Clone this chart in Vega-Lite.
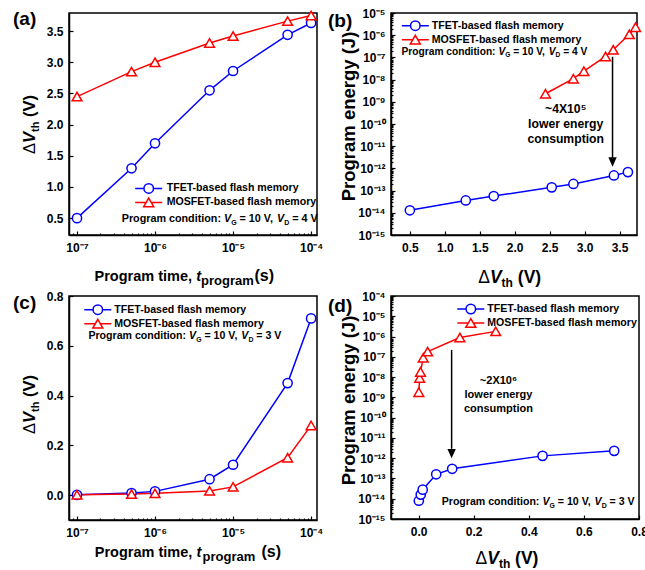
{
"$schema": "https://vega.github.io/schema/vega-lite/v6.json",
"background": "white",
"padding": {"left": 12, "top": 6, "right": 0, "bottom": 0},
"columns": 2,
"spacing": {"row": 61, "column": 74},
"bounds": "flush",
"resolve": {"scale": {"color": "independent", "shape": "independent"}, "legend": {"color": "independent", "shape": "independent"}},
"config": {
  "font": "Liberation Sans",
  "view": {"stroke": "black", "strokeWidth": 1.5},
  "axis": {"grid": false, "domainColor": "black", "domainWidth": 1.5, "tickColor": "black", "tickWidth": 1.2, "labelColor": "black", "labelFont": "Liberation Sans", "labelFontWeight": "bold", "labelFontSize": 12, "labelFlush": false, "labelOverlap": false, "titleColor": "black", "titleFont": "Liberation Sans", "titleFontWeight": "bold"},
  "legend": {"labelFont": "Liberation Sans", "labelFontWeight": "bold", "labelFontSize": 10.6, "labelColor": "black", "symbolStrokeWidth": 1.5, "symbolSize": 100, "labelLimit": 250},
  "text": {"font": "Liberation Sans", "fontWeight": "bold", "color": "black"}
},
"datasets": {
  "a": [
    {"series": "TFET-based flash memory", "t": 1e-7, "dv": 0.5},
    {"series": "TFET-based flash memory", "t": 5e-7, "dv": 1.3},
    {"series": "TFET-based flash memory", "t": 1e-6, "dv": 1.7},
    {"series": "TFET-based flash memory", "t": 5e-6, "dv": 2.55},
    {"series": "TFET-based flash memory", "t": 1e-5, "dv": 2.86},
    {"series": "TFET-based flash memory", "t": 5e-5, "dv": 3.44},
    {"series": "TFET-based flash memory", "t": 1e-4, "dv": 3.63},
    {"series": "MOSFET-based flash memory", "t": 1e-7, "dv": 2.45},
    {"series": "MOSFET-based flash memory", "t": 5e-7, "dv": 2.85},
    {"series": "MOSFET-based flash memory", "t": 1e-6, "dv": 3.0},
    {"series": "MOSFET-based flash memory", "t": 5e-6, "dv": 3.31},
    {"series": "MOSFET-based flash memory", "t": 1e-5, "dv": 3.42},
    {"series": "MOSFET-based flash memory", "t": 5e-5, "dv": 3.66},
    {"series": "MOSFET-based flash memory", "t": 1e-4, "dv": 3.75}
  ],
  "b": [
    {"series": "TFET-based flash memory", "dv": 0.5, "e": 1.3e-14},
    {"series": "TFET-based flash memory", "dv": 1.3, "e": 3.6e-14},
    {"series": "TFET-based flash memory", "dv": 1.7, "e": 5.7e-14},
    {"series": "TFET-based flash memory", "dv": 2.53, "e": 1.4e-13},
    {"series": "TFET-based flash memory", "dv": 2.84, "e": 2.0e-13},
    {"series": "TFET-based flash memory", "dv": 3.42, "e": 4.8e-13},
    {"series": "TFET-based flash memory", "dv": 3.62, "e": 6.8e-13},
    {"series": "MOSFET-based flash memory", "dv": 2.44, "e": 2.3e-9},
    {"series": "MOSFET-based flash memory", "dv": 2.84, "e": 1.1e-8},
    {"series": "MOSFET-based flash memory", "dv": 2.99, "e": 2.4e-8},
    {"series": "MOSFET-based flash memory", "dv": 3.3, "e": 1.1e-7},
    {"series": "MOSFET-based flash memory", "dv": 3.41, "e": 2.2e-7},
    {"series": "MOSFET-based flash memory", "dv": 3.64, "e": 1.1e-6},
    {"series": "MOSFET-based flash memory", "dv": 3.73, "e": 2.3e-6}
  ],
  "c": [
    {"series": "TFET-based flash memory", "t": 1e-7, "dv": 0.001},
    {"series": "TFET-based flash memory", "t": 5e-7, "dv": 0.008},
    {"series": "TFET-based flash memory", "t": 1e-6, "dv": 0.015},
    {"series": "TFET-based flash memory", "t": 5e-6, "dv": 0.064},
    {"series": "TFET-based flash memory", "t": 1e-5, "dv": 0.122},
    {"series": "TFET-based flash memory", "t": 5e-5, "dv": 0.45},
    {"series": "TFET-based flash memory", "t": 1e-4, "dv": 0.71},
    {"series": "MOSFET-based flash memory", "t": 1e-7, "dv": 0.001},
    {"series": "MOSFET-based flash memory", "t": 5e-7, "dv": 0.004},
    {"series": "MOSFET-based flash memory", "t": 1e-6, "dv": 0.007},
    {"series": "MOSFET-based flash memory", "t": 5e-6, "dv": 0.017},
    {"series": "MOSFET-based flash memory", "t": 1e-5, "dv": 0.033},
    {"series": "MOSFET-based flash memory", "t": 5e-5, "dv": 0.15},
    {"series": "MOSFET-based flash memory", "t": 1e-4, "dv": 0.28}
  ],
  "d": [
    {"series": "TFET-based flash memory", "dv": 0.001, "e": 8e-15},
    {"series": "TFET-based flash memory", "dv": 0.008, "e": 1.6e-14},
    {"series": "TFET-based flash memory", "dv": 0.015, "e": 2.8e-14},
    {"series": "TFET-based flash memory", "dv": 0.064, "e": 1.6e-13},
    {"series": "TFET-based flash memory", "dv": 0.122, "e": 3e-13},
    {"series": "TFET-based flash memory", "dv": 0.45, "e": 1.3e-12},
    {"series": "TFET-based flash memory", "dv": 0.71, "e": 2.3e-12},
    {"series": "MOSFET-based flash memory", "dv": 0.001, "e": 1.8e-9},
    {"series": "MOSFET-based flash memory", "dv": 0.004, "e": 9e-9},
    {"series": "MOSFET-based flash memory", "dv": 0.007, "e": 1.8e-8},
    {"series": "MOSFET-based flash memory", "dv": 0.017, "e": 9e-8},
    {"series": "MOSFET-based flash memory", "dv": 0.033, "e": 1.8e-7},
    {"series": "MOSFET-based flash memory", "dv": 0.15, "e": 9e-7},
    {"series": "MOSFET-based flash memory", "dv": 0.28, "e": 1.8e-6}
  ]
},
"concat": [
{
  "width": 248, "height": 222,
  "data": {"name": "a"},
  "resolve": {"axis": {"x": "independent", "y": "independent"}},
  "layer": [
    {"transform": [{"filter": "datum.series === 'TFET-based flash memory'"}],
     "mark": {"type": "line", "strokeWidth": 1.5, "color": "#0000ff"},
     "encoding": {
       "x": {"field": "t", "type": "quantitative", "scale": {"type": "log", "domain": [7.9e-8, 1.19e-4], "nice": false},
             "axis": {"orient": "bottom", "values": [1e-7, 1e-6, 1e-5, 1e-4], "labelExpr": "['10⁻⁷','10⁻⁶','10⁻⁵','10⁻⁴'][round(log(datum.value)/LN10)+7]", "tickSize": -4, "labelPadding": 11, "title": null}},
       "y": {"field": "dv", "type": "quantitative", "scale": {"domain": [0.23, 3.79], "nice": false, "zero": false},
             "axis": {"orient": "left", "values": [0.5, 1, 1.5, 2, 2.5, 3, 3.5], "format": ".1f", "tickSize": -4, "labelPadding": 10, "title": null}}
     }},
    {"transform": [{"filter": "datum.series === 'MOSFET-based flash memory'"}],
     "mark": {"type": "line", "strokeWidth": 1.5, "color": "#ff0000"},
     "encoding": {"x": {"field": "t", "type": "quantitative", "axis": null}, "y": {"field": "dv", "type": "quantitative", "axis": null}}},
    {"transform": [{"filter": "datum.series === 'TFET-based flash memory'"}],
     "mark": {"type": "point", "shape": "circle", "size": 85, "filled": true, "fill": "white", "stroke": "#0000ff", "strokeWidth": 1.5, "opacity": 1},
     "encoding": {"x": {"field": "t", "type": "quantitative", "axis": null}, "y": {"field": "dv", "type": "quantitative", "axis": null}}},
    {"transform": [{"filter": "datum.series === 'MOSFET-based flash memory'"}],
     "mark": {"type": "point", "shape": "triangle-up", "size": 95, "filled": true, "fill": "white", "stroke": "#ff0000", "strokeWidth": 1.5, "opacity": 1},
     "encoding": {"x": {"field": "t", "type": "quantitative", "axis": null}, "y": {"field": "dv", "type": "quantitative", "axis": null}}},
    {"transform": [{"filter": "false"}],
     "mark": {"type": "point", "size": 100, "strokeWidth": 1.5, "filled": false},
     "encoding": {
       "x": {"field": "t", "type": "quantitative", "axis": null}, "y": {"field": "dv", "type": "quantitative", "axis": null},
       "color": {"field": "series", "type": "nominal", "scale": {"domain": ["TFET-based flash memory", "MOSFET-based flash memory"], "range": ["#0000ff", "#ff0000"]},
                 "legend": {"orient": "none", "legendX": 73.7, "legendY": 169.4, "title": null, "padding": 0, "labelOffset": 12, "rowPadding": -5.5, "symbolSize": 100, "symbolStrokeWidth": 1.5, "symbolOpacity": 1}},
       "shape": {"field": "series", "type": "nominal", "scale": {"domain": ["TFET-based flash memory", "MOSFET-based flash memory"], "range": ["M-2.7,0H-0.95M0.95,0H2.7M0.95,0A0.95,0.95,0,1,1,-0.95,0A0.95,0.95,0,1,1,0.95,0", "M-2.7,0H-0.5M0.5,0H2.7M0,-0.87L1,0.87L-1,0.87Z"]},
                 "legend": {"orient": "none", "legendX": 73.7, "legendY": 169.4, "title": null, "padding": 0, "labelOffset": 12, "rowPadding": -5.5, "symbolSize": 100, "symbolStrokeWidth": 1.5, "symbolOpacity": 1}}
     }},
    {"data": {"values": [{}]},
     "mark": {"type": "text", "align": "left", "baseline": "alphabetic", "fontSize": 19, "fontWeight": "bold", "dx": -56, "dy": 12, "text": "(a)"},
     "encoding": {"x": {"datum": 7.9e-8, "type": "quantitative", "axis": null}, "y": {"datum": 3.79, "type": "quantitative", "axis": null}}},
    {"data": {"values": [{}]},
     "mark": {"type": "text", "align": "left", "baseline": "alphabetic", "fontSize": 10.77, "fontWeight": "bold", "text": "Program condition:"},
     "encoding": {
       "x": {"datum": 3.74e-7, "type": "quantitative", "axis": {"orient": "bottom", "domain": false, "ticks": false, "labels": false, "title": "Program time,", "titleX": 25, "titleY": 45.5, "titleAlign": "left", "titleBaseline": "alphabetic", "titleAngle": 0, "titleFontSize": 14.5, "titleFontStyle": "normal"}},
       "y": {"datum": 0.438, "type": "quantitative", "axis": {"orient": "left", "domain": false, "ticks": false, "labels": false, "title": "Δ", "titleX": -35, "titleY": 140.5, "titleAlign": "left", "titleBaseline": "alphabetic", "titleAngle": -90, "titleFontSize": 16.5, "titleFontWeight": "normal"}}
     }},
    {"data": {"values": [{}]},
     "mark": {"type": "text", "align": "left", "baseline": "alphabetic", "fontSize": 10.77, "fontWeight": "bold", "fontStyle": "italic", "dx": 102.3, "text": "V"},
     "encoding": {
       "x": {"datum": 3.74e-7, "type": "quantitative", "axis": {"orient": "bottom", "domain": false, "ticks": false, "labels": false, "title": "t", "titleX": 126.8, "titleY": 45.5, "titleAlign": "left", "titleBaseline": "alphabetic", "titleAngle": 0, "titleFontSize": 14.5, "titleFontStyle": "italic"}},
       "y": {"datum": 0.438, "type": "quantitative", "axis": {"orient": "left", "domain": false, "ticks": false, "labels": false, "title": "V", "titleX": -35, "titleY": 129.5, "titleAlign": "left", "titleBaseline": "alphabetic", "titleAngle": -90, "titleFontSize": 16.5, "titleFontStyle": "italic"}}
     }},
    {"data": {"values": [{}]},
     "mark": {"type": "text", "align": "left", "baseline": "alphabetic", "fontSize": 7, "fontWeight": "bold", "dx": 109.5, "dy": 2.5, "text": "G"},
     "encoding": {
       "x": {"datum": 3.74e-7, "type": "quantitative", "axis": {"orient": "bottom", "domain": false, "ticks": false, "labels": false, "title": "program", "titleX": 131.5, "titleY": 49.5, "titleAlign": "left", "titleBaseline": "alphabetic", "titleAngle": 0, "titleFontSize": 13}},
       "y": {"datum": 0.438, "type": "quantitative", "axis": {"orient": "left", "domain": false, "ticks": false, "labels": false, "title": "th", "titleX": -30.5, "titleY": 118.5, "titleAlign": "left", "titleBaseline": "alphabetic", "titleAngle": -90, "titleFontSize": 11}}
     }},
    {"data": {"values": [{}]},
     "mark": {"type": "text", "align": "left", "baseline": "alphabetic", "fontSize": 10.77, "fontWeight": "bold", "dx": 117.9, "text": "= 10 V,"},
     "encoding": {
       "x": {"datum": 3.74e-7, "type": "quantitative", "axis": {"orient": "bottom", "domain": false, "ticks": false, "labels": false, "title": "(s)", "titleX": 185, "titleY": 45.5, "titleAlign": "left", "titleBaseline": "alphabetic", "titleAngle": 0, "titleFontSize": 16}},
       "y": {"datum": 0.438, "type": "quantitative", "axis": {"orient": "left", "domain": false, "ticks": false, "labels": false, "title": "(V)", "titleX": -35, "titleY": 103.5, "titleAlign": "left", "titleBaseline": "alphabetic", "titleAngle": -90, "titleFontSize": 16.5}}
     }},
    {"data": {"values": [{}]},
     "mark": {"type": "text", "align": "left", "baseline": "alphabetic", "fontSize": 10.77, "fontWeight": "bold", "fontStyle": "italic", "dx": 155.4, "text": "V"},
     "encoding": {
       "x": {"datum": 3.74e-7, "type": "quantitative", "axis": {"orient": "bottom", "values": [9e-8, 2e-7, 3e-7, 4e-7, 5e-7, 6e-7, 7e-7, 8e-7, 9e-7, 2e-6, 3e-6, 4e-6, 5e-6, 6e-6, 7e-6, 8e-6, 9e-6, 2e-5, 3e-5, 4e-5, 5e-5, 6e-5, 7e-5, 8e-5, 9e-5], "labels": false, "domain": false, "tickSize": -2, "title": null}},
       "y": {"datum": 0.438, "type": "quantitative", "axis": null}
     }},
    {"data": {"values": [{}]},
     "mark": {"type": "text", "align": "left", "baseline": "alphabetic", "fontSize": 7, "fontWeight": "bold", "dx": 162.6, "dy": 2.5, "text": "D"},
     "encoding": {"x": {"datum": 3.74e-7, "type": "quantitative", "axis": null}, "y": {"datum": 0.438, "type": "quantitative", "axis": null}}},
    {"data": {"values": [{}]},
     "mark": {"type": "text", "align": "left", "baseline": "alphabetic", "fontSize": 10.77, "fontWeight": "bold", "dx": 170.6, "text": "= 4 V"},
     "encoding": {"x": {"datum": 3.74e-7, "type": "quantitative", "axis": null}, "y": {"datum": 0.438, "type": "quantitative", "axis": null}}}
  ]
},
{
  "width": 246, "height": 222,
  "data": {"name": "b"},
  "resolve": {"axis": {"x": "independent", "y": "independent"}},
  "layer": [
    {"transform": [{"filter": "datum.series === 'TFET-based flash memory'"}],
     "mark": {"type": "line", "strokeWidth": 1.5, "color": "#0000ff"},
     "encoding": {
       "x": {"field": "dv", "type": "quantitative", "scale": {"domain": [0.23, 3.75], "nice": false, "zero": false},
             "axis": {"orient": "bottom", "values": [0.5, 1, 1.5, 2, 2.5, 3, 3.5], "format": ".1f", "tickSize": -4, "labelPadding": 11, "title": null}},
       "y": {"field": "e", "type": "quantitative", "scale": {"type": "log", "domain": [1e-15, 1e-5], "nice": false},
             "axis": {"orient": "left", "values": [1e-15, 1e-14, 1e-13, 1e-12, 1e-11, 1e-10, 1e-9, 1e-8, 1e-7, 1e-6, 1e-5], "labelExpr": "['10⁻¹⁵','10⁻¹⁴','10⁻¹³','10⁻¹²','10⁻¹¹','10⁻¹⁰','10⁻⁹','10⁻⁸','10⁻⁷','10⁻⁶','10⁻⁵','10⁻⁴'][round(log(datum.value)/LN10)+15]", "tickSize": -4, "labelPadding": 10, "title": "Program energy (J)", "titleX": -37, "titleY": 103, "titleAngle": -90, "titleAlign": "center", "titleBaseline": "alphabetic", "titleFontSize": 18.5}}
     }},
    {"transform": [{"filter": "datum.series === 'MOSFET-based flash memory'"}],
     "mark": {"type": "line", "strokeWidth": 1.5, "color": "#ff0000"},
     "encoding": {"x": {"field": "dv", "type": "quantitative", "axis": null}, "y": {"field": "e", "type": "quantitative", "axis": null}}},
    {"transform": [{"filter": "datum.series === 'TFET-based flash memory'"}],
     "mark": {"type": "point", "shape": "circle", "size": 85, "filled": true, "fill": "white", "stroke": "#0000ff", "strokeWidth": 1.5, "opacity": 1},
     "encoding": {"x": {"field": "dv", "type": "quantitative", "axis": null}, "y": {"field": "e", "type": "quantitative", "axis": null}}},
    {"transform": [{"filter": "datum.series === 'MOSFET-based flash memory'"}],
     "mark": {"type": "point", "shape": "triangle-up", "size": 95, "filled": true, "fill": "white", "stroke": "#ff0000", "strokeWidth": 1.5, "opacity": 1},
     "encoding": {"x": {"field": "dv", "type": "quantitative", "axis": null}, "y": {"field": "e", "type": "quantitative", "axis": null}}},
    {"transform": [{"filter": "false"}],
     "mark": {"type": "point", "size": 100, "strokeWidth": 1.5, "filled": false},
     "encoding": {
       "x": {"field": "dv", "type": "quantitative", "axis": null}, "y": {"field": "e", "type": "quantitative", "axis": null},
       "color": {"field": "series", "type": "nominal", "scale": {"domain": ["TFET-based flash memory", "MOSFET-based flash memory"], "range": ["#0000ff", "#ff0000"]},
                 "legend": {"orient": "none", "legendX": 18.3, "legendY": 6.7, "title": null, "padding": 0, "labelOffset": 10.5, "rowPadding": -3.2, "symbolSize": 100, "symbolStrokeWidth": 1.5, "symbolOpacity": 1}},
       "shape": {"field": "series", "type": "nominal", "scale": {"domain": ["TFET-based flash memory", "MOSFET-based flash memory"], "range": ["M-2.7,0H-0.95M0.95,0H2.7M0.95,0A0.95,0.95,0,1,1,-0.95,0A0.95,0.95,0,1,1,0.95,0", "M-2.7,0H-0.5M0.5,0H2.7M0,-0.87L1,0.87L-1,0.87Z"]},
                 "legend": {"orient": "none", "legendX": 18.3, "legendY": 6.7, "title": null, "padding": 0, "labelOffset": 10.5, "rowPadding": -3.2, "symbolSize": 100, "symbolStrokeWidth": 1.5, "symbolOpacity": 1}}
     }},
    {"data": {"values": [{}]},
     "mark": {"type": "text", "align": "left", "baseline": "alphabetic", "fontSize": 19, "fontWeight": "bold", "dx": -63, "dy": 13.5, "text": "(b)"},
     "encoding": {"x": {"datum": 0.23, "type": "quantitative", "axis": null}, "y": {"datum": 1e-5, "type": "quantitative", "axis": null}}},
    {"data": {"values": [{}]},
     "mark": {"type": "text", "align": "left", "baseline": "alphabetic", "fontSize": 10.2, "fontWeight": "bold", "text": "Program condition:"},
     "encoding": {
       "x": {"datum": 0.381, "type": "quantitative", "axis": {"orient": "bottom", "domain": false, "ticks": false, "labels": false, "title": "Δ", "titleX": 86.7, "titleY": 47.7, "titleAlign": "left", "titleBaseline": "alphabetic", "titleAngle": 0, "titleFontSize": 17.5, "titleFontWeight": "normal"}},
       "y": {"datum": 1.29e-7, "type": "quantitative", "axis": null}
     }},
    {"data": {"values": [{}]},
     "mark": {"type": "text", "align": "left", "baseline": "alphabetic", "fontSize": 10.2, "fontWeight": "bold", "fontStyle": "italic", "dx": 96.9, "text": "V"},
     "encoding": {
       "x": {"datum": 0.381, "type": "quantitative", "axis": {"orient": "bottom", "domain": false, "ticks": false, "labels": false, "title": "V", "titleX": 98.4, "titleY": 47.7, "titleAlign": "left", "titleBaseline": "alphabetic", "titleAngle": 0, "titleFontSize": 17.5, "titleFontStyle": "italic"}},
       "y": {"datum": 1.29e-7, "type": "quantitative", "axis": null}
     }},
    {"data": {"values": [{}]},
     "mark": {"type": "text", "align": "left", "baseline": "alphabetic", "fontSize": 6.6, "fontWeight": "bold", "dx": 103.7, "dy": 2.4, "text": "G"},
     "encoding": {
       "x": {"datum": 0.381, "type": "quantitative", "axis": {"orient": "bottom", "domain": false, "ticks": false, "labels": false, "title": "th", "titleX": 110.1, "titleY": 51.7, "titleAlign": "left", "titleBaseline": "alphabetic", "titleAngle": 0, "titleFontSize": 12}},
       "y": {"datum": 1.29e-7, "type": "quantitative", "axis": null}
     }},
    {"data": {"values": [{}]},
     "mark": {"type": "text", "align": "left", "baseline": "alphabetic", "fontSize": 10.2, "fontWeight": "bold", "dx": 111.7, "text": "= 10 V,"},
     "encoding": {
       "x": {"datum": 0.381, "type": "quantitative", "axis": {"orient": "bottom", "domain": false, "ticks": false, "labels": false, "title": "(V)", "titleX": 126.3, "titleY": 47.7, "titleAlign": "left", "titleBaseline": "alphabetic", "titleAngle": 0, "titleFontSize": 17.5}},
       "y": {"datum": 1.29e-7, "type": "quantitative", "axis": null}
     }},
    {"data": {"values": [{}]},
     "mark": {"type": "text", "align": "left", "baseline": "alphabetic", "fontSize": 10.2, "fontWeight": "bold", "fontStyle": "italic", "dx": 147.2, "text": "V"},
     "encoding": {
       "x": {"datum": 0.381, "type": "quantitative", "axis": null},
       "y": {"datum": 1.29e-7, "type": "quantitative", "axis": {"orient": "left", "values": [2e-15, 3e-15, 4e-15, 5e-15, 6e-15, 7e-15, 8e-15, 9e-15, 2e-14, 3e-14, 4e-14, 5e-14, 6e-14, 7e-14, 8e-14, 9e-14, 2e-13, 3e-13, 4e-13, 5e-13, 6e-13, 7e-13, 8e-13, 9e-13, 2e-12, 3e-12, 4e-12, 5e-12, 6e-12, 7e-12, 8e-12, 9e-12, 2e-11, 3e-11, 4e-11, 5e-11, 6e-11, 7e-11, 8e-11, 9e-11, 2e-10, 3e-10, 4e-10, 5e-10, 6e-10, 7e-10, 8e-10, 9e-10, 2e-9, 3e-9, 4e-9, 5e-9, 6e-9, 7e-9, 8e-9, 9e-9, 2e-8, 3e-8, 4e-8, 5e-8, 6e-8, 7e-8, 8e-8, 9e-8, 2e-7, 3e-7, 4e-7, 5e-7, 6e-7, 7e-7, 8e-7, 9e-7, 2e-6, 3e-6, 4e-6, 5e-6, 6e-6, 7e-6, 8e-6, 9e-6], "labels": false, "domain": false, "tickSize": -2, "title": null}}
     }},
    {"data": {"values": [{}]},
     "mark": {"type": "text", "align": "left", "baseline": "alphabetic", "fontSize": 6.6, "fontWeight": "bold", "dx": 154.0, "dy": 2.4, "text": "D"},
     "encoding": {"x": {"datum": 0.381, "type": "quantitative", "axis": null}, "y": {"datum": 1.29e-7, "type": "quantitative", "axis": null}}},
    {"data": {"values": [{}]},
     "mark": {"type": "text", "align": "left", "baseline": "alphabetic", "fontSize": 10.2, "fontWeight": "bold", "dx": 161.6, "text": "= 4 V"},
     "encoding": {"x": {"datum": 0.381, "type": "quantitative", "axis": null}, "y": {"datum": 1.29e-7, "type": "quantitative", "axis": null}}},
    {"data": {"values": [{}]},
     "mark": {"type": "text", "align": "center", "baseline": "alphabetic", "fontSize": 12.2, "fontWeight": "bold", "lineBreak": "\n", "lineHeight": 15, "text": "~4X10⁵\nlower energy\nconsumption"},
     "encoding": {"x": {"datum": 2.73, "type": "quantitative", "axis": null}, "y": {"datum": 3.2e-10, "type": "quantitative", "axis": null}}},
    {"data": {"values": [{}]},
     "mark": {"type": "rule", "strokeWidth": 1.5, "color": "black"},
     "encoding": {"x": {"datum": 3.4, "type": "quantitative", "axis": null}, "y": {"datum": 1.07e-7, "type": "quantitative", "axis": null}, "y2": {"datum": 3e-12}}},
    {"data": {"values": [{}]},
     "mark": {"type": "point", "shape": "M-0.45,-1L0.45,-1L0,0Z", "filled": true, "color": "black", "size": 346, "opacity": 1},
     "encoding": {"x": {"datum": 3.4, "type": "quantitative", "axis": null}, "y": {"datum": 1.2e-12, "type": "quantitative", "axis": null}}}
  ]
},
{
  "width": 248, "height": 224,
  "data": {"name": "c"},
  "resolve": {"axis": {"x": "independent", "y": "independent"}},
  "layer": [
    {"transform": [{"filter": "datum.series === 'TFET-based flash memory'"}],
     "mark": {"type": "line", "strokeWidth": 1.5, "color": "#0000ff"},
     "encoding": {
       "x": {"field": "t", "type": "quantitative", "scale": {"type": "log", "domain": [7.9e-8, 1.19e-4], "nice": false},
             "axis": {"orient": "bottom", "values": [1e-7, 1e-6, 1e-5, 1e-4], "labelExpr": "['10⁻⁷','10⁻⁶','10⁻⁵','10⁻⁴'][round(log(datum.value)/LN10)+7]", "tickSize": -4, "labelPadding": 11, "title": null}},
       "y": {"field": "dv", "type": "quantitative", "scale": {"domain": [-0.1, 0.8], "nice": false, "zero": false},
             "axis": {"orient": "left", "values": [0, 0.2, 0.4, 0.6, 0.8], "format": ".1f", "tickSize": -4, "labelPadding": 10, "title": null}}
     }},
    {"transform": [{"filter": "datum.series === 'MOSFET-based flash memory'"}],
     "mark": {"type": "line", "strokeWidth": 1.5, "color": "#ff0000"},
     "encoding": {"x": {"field": "t", "type": "quantitative", "axis": null}, "y": {"field": "dv", "type": "quantitative", "axis": null}}},
    {"transform": [{"filter": "datum.series === 'TFET-based flash memory'"}],
     "mark": {"type": "point", "shape": "circle", "size": 85, "filled": true, "fill": "white", "stroke": "#0000ff", "strokeWidth": 1.5, "opacity": 1},
     "encoding": {"x": {"field": "t", "type": "quantitative", "axis": null}, "y": {"field": "dv", "type": "quantitative", "axis": null}}},
    {"transform": [{"filter": "datum.series === 'MOSFET-based flash memory'"}],
     "mark": {"type": "point", "shape": "triangle-up", "size": 95, "filled": true, "fill": "white", "stroke": "#ff0000", "strokeWidth": 1.5, "opacity": 1},
     "encoding": {"x": {"field": "t", "type": "quantitative", "axis": null}, "y": {"field": "dv", "type": "quantitative", "axis": null}}},
    {"transform": [{"filter": "false"}],
     "mark": {"type": "point", "size": 100, "strokeWidth": 1.5, "filled": false},
     "encoding": {
       "x": {"field": "t", "type": "quantitative", "axis": null}, "y": {"field": "dv", "type": "quantitative", "axis": null},
       "color": {"field": "series", "type": "nominal", "scale": {"domain": ["TFET-based flash memory", "MOSFET-based flash memory"], "range": ["#0000ff", "#ff0000"]},
                 "legend": {"orient": "none", "legendX": 22.8, "legendY": 7.7, "title": null, "padding": 0, "labelOffset": 10.5, "rowPadding": -5.5, "symbolSize": 100, "symbolStrokeWidth": 1.5, "symbolOpacity": 1}},
       "shape": {"field": "series", "type": "nominal", "scale": {"domain": ["TFET-based flash memory", "MOSFET-based flash memory"], "range": ["M-2.7,0H-0.95M0.95,0H2.7M0.95,0A0.95,0.95,0,1,1,-0.95,0A0.95,0.95,0,1,1,0.95,0", "M-2.7,0H-0.5M0.5,0H2.7M0,-0.87L1,0.87L-1,0.87Z"]},
                 "legend": {"orient": "none", "legendX": 22.8, "legendY": 7.7, "title": null, "padding": 0, "labelOffset": 10.5, "rowPadding": -5.5, "symbolSize": 100, "symbolStrokeWidth": 1.5, "symbolOpacity": 1}}
     }},
    {"data": {"values": [{}]},
     "mark": {"type": "text", "align": "left", "baseline": "alphabetic", "fontSize": 19, "fontWeight": "bold", "dx": -56, "dy": 13, "text": "(c)"},
     "encoding": {"x": {"datum": 7.9e-8, "type": "quantitative", "axis": null}, "y": {"datum": 0.8, "type": "quantitative", "axis": null}}},
    {"data": {"values": [{}]},
     "mark": {"type": "text", "align": "left", "baseline": "alphabetic", "fontSize": 10.6, "fontWeight": "bold", "text": "Program condition:"},
     "encoding": {
       "x": {"datum": 1.4e-7, "type": "quantitative", "axis": {"orient": "bottom", "domain": false, "ticks": false, "labels": false, "title": "Program time,", "titleX": 25.3, "titleY": 36, "titleAlign": "left", "titleBaseline": "alphabetic", "titleAngle": 0, "titleFontSize": 14.5, "titleFontStyle": "normal"}},
       "y": {"datum": 0.627, "type": "quantitative", "axis": {"orient": "left", "domain": false, "ticks": false, "labels": false, "title": "Δ", "titleX": -35, "titleY": 137.5, "titleAlign": "left", "titleBaseline": "alphabetic", "titleAngle": -90, "titleFontSize": 16.5, "titleFontWeight": "normal"}}
     }},
    {"data": {"values": [{}]},
     "mark": {"type": "text", "align": "left", "baseline": "alphabetic", "fontSize": 10.6, "fontWeight": "bold", "fontStyle": "italic", "dx": 100.7, "text": "V"},
     "encoding": {
       "x": {"datum": 1.4e-7, "type": "quantitative", "axis": {"orient": "bottom", "domain": false, "ticks": false, "labels": false, "title": "t", "titleX": 127, "titleY": 36, "titleAlign": "left", "titleBaseline": "alphabetic", "titleAngle": 0, "titleFontSize": 14.5, "titleFontStyle": "italic"}},
       "y": {"datum": 0.627, "type": "quantitative", "axis": {"orient": "left", "domain": false, "ticks": false, "labels": false, "title": "V", "titleX": -35, "titleY": 126.5, "titleAlign": "left", "titleBaseline": "alphabetic", "titleAngle": -90, "titleFontSize": 16.5, "titleFontStyle": "italic"}}
     }},
    {"data": {"values": [{}]},
     "mark": {"type": "text", "align": "left", "baseline": "alphabetic", "fontSize": 6.9, "fontWeight": "bold", "dx": 107.8, "dy": 2.5, "text": "G"},
     "encoding": {
       "x": {"datum": 1.4e-7, "type": "quantitative", "axis": {"orient": "bottom", "domain": false, "ticks": false, "labels": false, "title": "program", "titleX": 133, "titleY": 40, "titleAlign": "left", "titleBaseline": "alphabetic", "titleAngle": 0, "titleFontSize": 13}},
       "y": {"datum": 0.627, "type": "quantitative", "axis": {"orient": "left", "domain": false, "ticks": false, "labels": false, "title": "th", "titleX": -30.5, "titleY": 115.5, "titleAlign": "left", "titleBaseline": "alphabetic", "titleAngle": -90, "titleFontSize": 11}}
     }},
    {"data": {"values": [{}]},
     "mark": {"type": "text", "align": "left", "baseline": "alphabetic", "fontSize": 10.6, "fontWeight": "bold", "dx": 116.1, "text": "= 10 V,"},
     "encoding": {
       "x": {"datum": 1.4e-7, "type": "quantitative", "axis": {"orient": "bottom", "domain": false, "ticks": false, "labels": false, "title": "(s)", "titleX": 192, "titleY": 36, "titleAlign": "left", "titleBaseline": "alphabetic", "titleAngle": 0, "titleFontSize": 16}},
       "y": {"datum": 0.627, "type": "quantitative", "axis": {"orient": "left", "domain": false, "ticks": false, "labels": false, "title": "(V)", "titleX": -35, "titleY": 100.5, "titleAlign": "left", "titleBaseline": "alphabetic", "titleAngle": -90, "titleFontSize": 16.5}}
     }},
    {"data": {"values": [{}]},
     "mark": {"type": "text", "align": "left", "baseline": "alphabetic", "fontSize": 10.6, "fontWeight": "bold", "fontStyle": "italic", "dx": 152.9, "text": "V"},
     "encoding": {
       "x": {"datum": 1.4e-7, "type": "quantitative", "axis": {"orient": "bottom", "values": [9e-8, 2e-7, 3e-7, 4e-7, 5e-7, 6e-7, 7e-7, 8e-7, 9e-7, 2e-6, 3e-6, 4e-6, 5e-6, 6e-6, 7e-6, 8e-6, 9e-6, 2e-5, 3e-5, 4e-5, 5e-5, 6e-5, 7e-5, 8e-5, 9e-5], "labels": false, "domain": false, "tickSize": -2, "title": null}},
       "y": {"datum": 0.627, "type": "quantitative", "axis": null}
     }},
    {"data": {"values": [{}]},
     "mark": {"type": "text", "align": "left", "baseline": "alphabetic", "fontSize": 6.9, "fontWeight": "bold", "dx": 160.0, "dy": 2.5, "text": "D"},
     "encoding": {"x": {"datum": 1.4e-7, "type": "quantitative", "axis": null}, "y": {"datum": 0.627, "type": "quantitative", "axis": null}}},
    {"data": {"values": [{}]},
     "mark": {"type": "text", "align": "left", "baseline": "alphabetic", "fontSize": 10.6, "fontWeight": "bold", "dx": 167.9, "text": "= 3 V"},
     "encoding": {"x": {"datum": 1.4e-7, "type": "quantitative", "axis": null}, "y": {"datum": 0.627, "type": "quantitative", "axis": null}}}
  ]
},
{
  "width": 248, "height": 223,
  "data": {"name": "d"},
  "resolve": {"axis": {"x": "independent", "y": "independent"}},
  "layer": [
    {"transform": [{"filter": "datum.series === 'TFET-based flash memory'"}],
     "mark": {"type": "line", "strokeWidth": 1.5, "color": "#0000ff"},
     "encoding": {
       "x": {"field": "dv", "type": "quantitative", "scale": {"domain": [-0.1, 0.8], "nice": false, "zero": false},
             "axis": {"orient": "bottom", "values": [0, 0.2, 0.4, 0.6, 0.8], "format": ".1f", "tickSize": -4, "labelPadding": 11, "title": null}},
       "y": {"field": "e", "type": "quantitative", "scale": {"type": "log", "domain": [1e-15, 1e-4], "nice": false},
             "axis": {"orient": "left", "values": [1e-15, 1e-14, 1e-13, 1e-12, 1e-11, 1e-10, 1e-9, 1e-8, 1e-7, 1e-6, 1e-5, 1e-4], "labelExpr": "['10⁻¹⁵','10⁻¹⁴','10⁻¹³','10⁻¹²','10⁻¹¹','10⁻¹⁰','10⁻⁹','10⁻⁸','10⁻⁷','10⁻⁶','10⁻⁵','10⁻⁴'][round(log(datum.value)/LN10)+15]", "tickSize": -4, "labelPadding": 10, "title": "Program energy (J)", "titleX": -37, "titleY": 104, "titleAngle": -90, "titleAlign": "center", "titleBaseline": "alphabetic", "titleFontSize": 18.5}}
     }},
    {"transform": [{"filter": "datum.series === 'MOSFET-based flash memory'"}],
     "mark": {"type": "line", "strokeWidth": 1.5, "color": "#ff0000"},
     "encoding": {"x": {"field": "dv", "type": "quantitative", "axis": null}, "y": {"field": "e", "type": "quantitative", "axis": null}}},
    {"transform": [{"filter": "datum.series === 'TFET-based flash memory'"}],
     "mark": {"type": "point", "shape": "circle", "size": 85, "filled": true, "fill": "white", "stroke": "#0000ff", "strokeWidth": 1.5, "opacity": 1},
     "encoding": {"x": {"field": "dv", "type": "quantitative", "axis": null}, "y": {"field": "e", "type": "quantitative", "axis": null}}},
    {"transform": [{"filter": "datum.series === 'MOSFET-based flash memory'"}],
     "mark": {"type": "point", "shape": "triangle-up", "size": 95, "filled": true, "fill": "white", "stroke": "#ff0000", "strokeWidth": 1.5, "opacity": 1},
     "encoding": {"x": {"field": "dv", "type": "quantitative", "axis": null}, "y": {"field": "e", "type": "quantitative", "axis": null}}},
    {"transform": [{"filter": "false"}],
     "mark": {"type": "point", "size": 100, "strokeWidth": 1.5, "filled": false},
     "encoding": {
       "x": {"field": "dv", "type": "quantitative", "axis": null}, "y": {"field": "e", "type": "quantitative", "axis": null},
       "color": {"field": "series", "type": "nominal", "scale": {"domain": ["TFET-based flash memory", "MOSFET-based flash memory"], "range": ["#0000ff", "#ff0000"]},
                 "legend": {"orient": "none", "legendX": 73.8, "legendY": 7, "title": null, "padding": 0, "labelOffset": 10.5, "rowPadding": -5.5, "symbolSize": 100, "symbolStrokeWidth": 1.5, "symbolOpacity": 1}},
       "shape": {"field": "series", "type": "nominal", "scale": {"domain": ["TFET-based flash memory", "MOSFET-based flash memory"], "range": ["M-2.7,0H-0.95M0.95,0H2.7M0.95,0A0.95,0.95,0,1,1,-0.95,0A0.95,0.95,0,1,1,0.95,0", "M-2.7,0H-0.5M0.5,0H2.7M0,-0.87L1,0.87L-1,0.87Z"]},
                 "legend": {"orient": "none", "legendX": 73.8, "legendY": 7, "title": null, "padding": 0, "labelOffset": 10.5, "rowPadding": -5.5, "symbolSize": 100, "symbolStrokeWidth": 1.5, "symbolOpacity": 1}}
     }},
    {"data": {"values": [{}]},
     "mark": {"type": "text", "align": "left", "baseline": "alphabetic", "fontSize": 19, "fontWeight": "bold", "dx": -63, "dy": 15.5, "text": "(d)"},
     "encoding": {"x": {"datum": -0.1, "type": "quantitative", "axis": null}, "y": {"datum": 1e-4, "type": "quantitative", "axis": null}}},
    {"data": {"values": [{}]},
     "mark": {"type": "text", "align": "left", "baseline": "alphabetic", "fontSize": 10.6, "fontWeight": "bold", "text": "Program condition:"},
     "encoding": {
       "x": {"datum": 0.084, "type": "quantitative", "axis": {"orient": "bottom", "domain": false, "ticks": false, "labels": false, "title": "Δ", "titleX": 84, "titleY": 44.3, "titleAlign": "left", "titleBaseline": "alphabetic", "titleAngle": 0, "titleFontSize": 17.5, "titleFontWeight": "normal"}},
       "y": {"datum": 4.9e-15, "type": "quantitative", "axis": null}
     }},
    {"data": {"values": [{}]},
     "mark": {"type": "text", "align": "left", "baseline": "alphabetic", "fontSize": 10.6, "fontWeight": "bold", "fontStyle": "italic", "dx": 100.7, "text": "V"},
     "encoding": {
       "x": {"datum": 0.084, "type": "quantitative", "axis": {"orient": "bottom", "domain": false, "ticks": false, "labels": false, "title": "V", "titleX": 95.7, "titleY": 44.3, "titleAlign": "left", "titleBaseline": "alphabetic", "titleAngle": 0, "titleFontSize": 17.5, "titleFontStyle": "italic"}},
       "y": {"datum": 4.9e-15, "type": "quantitative", "axis": null}
     }},
    {"data": {"values": [{}]},
     "mark": {"type": "text", "align": "left", "baseline": "alphabetic", "fontSize": 6.9, "fontWeight": "bold", "dx": 107.8, "dy": 2.5, "text": "G"},
     "encoding": {
       "x": {"datum": 0.084, "type": "quantitative", "axis": {"orient": "bottom", "domain": false, "ticks": false, "labels": false, "title": "th", "titleX": 107.4, "titleY": 48.3, "titleAlign": "left", "titleBaseline": "alphabetic", "titleAngle": 0, "titleFontSize": 12}},
       "y": {"datum": 4.9e-15, "type": "quantitative", "axis": null}
     }},
    {"data": {"values": [{}]},
     "mark": {"type": "text", "align": "left", "baseline": "alphabetic", "fontSize": 10.6, "fontWeight": "bold", "dx": 116.1, "text": "= 10 V,"},
     "encoding": {
       "x": {"datum": 0.084, "type": "quantitative", "axis": {"orient": "bottom", "domain": false, "ticks": false, "labels": false, "title": "(V)", "titleX": 123.6, "titleY": 44.3, "titleAlign": "left", "titleBaseline": "alphabetic", "titleAngle": 0, "titleFontSize": 17.5}},
       "y": {"datum": 4.9e-15, "type": "quantitative", "axis": null}
     }},
    {"data": {"values": [{}]},
     "mark": {"type": "text", "align": "left", "baseline": "alphabetic", "fontSize": 10.6, "fontWeight": "bold", "fontStyle": "italic", "dx": 152.9, "text": "V"},
     "encoding": {
       "x": {"datum": 0.084, "type": "quantitative", "axis": null},
       "y": {"datum": 4.9e-15, "type": "quantitative", "axis": {"orient": "left", "values": [2e-15, 3e-15, 4e-15, 5e-15, 6e-15, 7e-15, 8e-15, 9e-15, 2e-14, 3e-14, 4e-14, 5e-14, 6e-14, 7e-14, 8e-14, 9e-14, 2e-13, 3e-13, 4e-13, 5e-13, 6e-13, 7e-13, 8e-13, 9e-13, 2e-12, 3e-12, 4e-12, 5e-12, 6e-12, 7e-12, 8e-12, 9e-12, 2e-11, 3e-11, 4e-11, 5e-11, 6e-11, 7e-11, 8e-11, 9e-11, 2e-10, 3e-10, 4e-10, 5e-10, 6e-10, 7e-10, 8e-10, 9e-10, 2e-9, 3e-9, 4e-9, 5e-9, 6e-9, 7e-9, 8e-9, 9e-9, 2e-8, 3e-8, 4e-8, 5e-8, 6e-8, 7e-8, 8e-8, 9e-8, 2e-7, 3e-7, 4e-7, 5e-7, 6e-7, 7e-7, 8e-7, 9e-7, 2e-6, 3e-6, 4e-6, 5e-6, 6e-6, 7e-6, 8e-6, 9e-6, 2e-5, 3e-5, 4e-5, 5e-5, 6e-5, 7e-5, 8e-5, 9e-5], "labels": false, "domain": false, "tickSize": -2, "title": null}}
     }},
    {"data": {"values": [{}]},
     "mark": {"type": "text", "align": "left", "baseline": "alphabetic", "fontSize": 6.9, "fontWeight": "bold", "dx": 160.0, "dy": 2.5, "text": "D"},
     "encoding": {"x": {"datum": 0.084, "type": "quantitative", "axis": null}, "y": {"datum": 4.9e-15, "type": "quantitative", "axis": null}}},
    {"data": {"values": [{}]},
     "mark": {"type": "text", "align": "left", "baseline": "alphabetic", "fontSize": 10.6, "fontWeight": "bold", "dx": 167.9, "text": "= 3 V"},
     "encoding": {"x": {"datum": 0.084, "type": "quantitative", "axis": null}, "y": {"datum": 4.9e-15, "type": "quantitative", "axis": null}}},
    {"data": {"values": [{}]},
     "mark": {"type": "text", "align": "center", "baseline": "alphabetic", "fontSize": 11, "fontWeight": "bold", "lineBreak": "\n", "lineHeight": 14, "text": "~2X10⁶\nlower energy\nconsumption"},
     "encoding": {"x": {"datum": 0.29, "type": "quantitative", "axis": null}, "y": {"datum": 4.4e-9, "type": "quantitative", "axis": null}}},
    {"data": {"values": [{}]},
     "mark": {"type": "rule", "strokeWidth": 1.5, "color": "black"},
     "encoding": {"x": {"datum": 0.12, "type": "quantitative", "axis": null}, "y": {"datum": 2.2e-7, "type": "quantitative", "axis": null}, "y2": {"datum": 2.9e-12}}},
    {"data": {"values": [{}]},
     "mark": {"type": "point", "shape": "M-0.45,-1L0.45,-1L0,0Z", "filled": true, "color": "black", "size": 346, "opacity": 1},
     "encoding": {"x": {"datum": 0.12, "type": "quantitative", "axis": null}, "y": {"datum": 1e-12, "type": "quantitative", "axis": null}}}
  ]
}
]
}
